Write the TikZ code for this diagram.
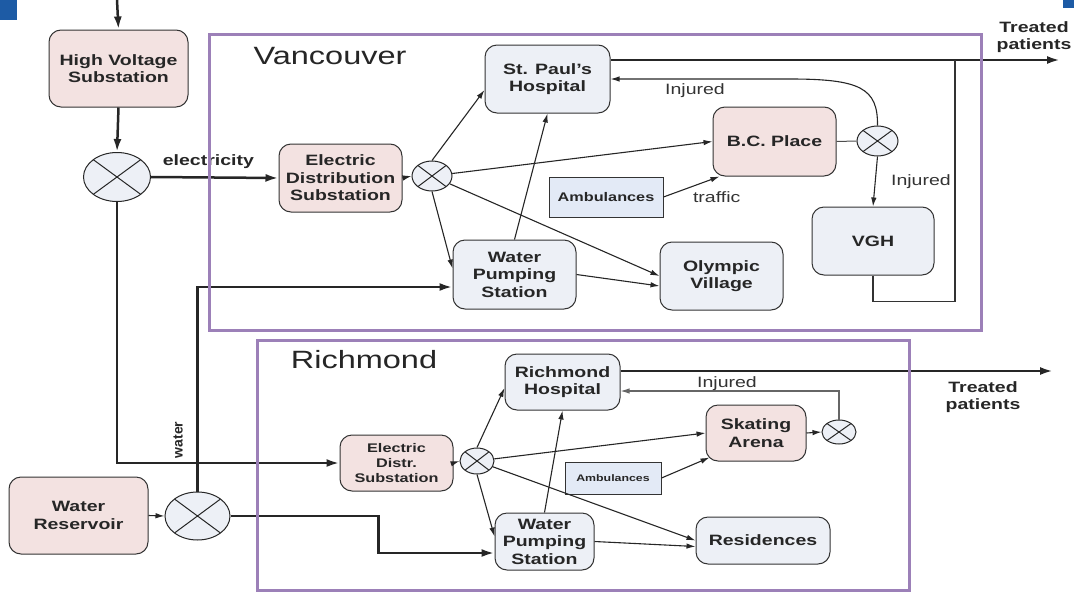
\documentclass[tikz,border=0pt]{standalone}
\usepackage{fontspec}
\setmainfont{Liberation Sans}[FakeStretch=1.3]
\newfontfamily\uprightsans{Liberation Sans}
\usepackage{tikz}
\usetikzlibrary{arrows.meta, shapes.geometric}

\definecolor{pinkfill}{HTML}{F3E2E1}
\definecolor{greyfill}{HTML}{EDF0F6}
\definecolor{ambfill}{HTML}{E3EAF6}
\definecolor{cityline}{HTML}{9C80B8}
\definecolor{slideblue}{HTML}{1D5BA5}

\tikzset{
	box/.style={draw=black!80, line width=1pt, rounded corners=12pt, align=center, inner sep=2pt, text=black!85, font=\fontsize{15}{17.5}\selectfont\bfseries},
	pinkbox/.style={box, fill=pinkfill},
	greybox/.style={box, fill=greyfill},
	ambbox/.style={draw=black!80, line width=1pt, fill=ambfill, inner sep=2pt, text=black!85},
	mixer/.style={ellipse, draw=black!85, line width=1pt, fill=greyfill, inner sep=0pt,
		path picture={\draw[black!85, line width=1pt] (path picture bounding box.south west) -- (path picture bounding box.north east)
			(path picture bounding box.north west) -- (path picture bounding box.south east);}},
	region/.style={draw=cityline, line width=3pt},
	flow/.style={line width=2.5pt, draw=black!85, -{Latex[length=13pt,width=8pt]}},
	link/.style={line width=1.1pt, draw=black!85, -{Latex[length=9pt,width=5.5pt]}},
	tag/.style={font=\fontsize{15}{17}\selectfont, text=black!80},
	boldtag/.style={font=\fontsize{15}{17}\selectfont\bfseries, text=black!85, align=center},
	cityname/.style={font=\fontsize{25}{28}\selectfont, text=black!85},
}

\begin{document}
\begin{tikzpicture}[x=1pt, y=-1pt]
	\useasboundingbox (0,0) rectangle (1074,592);
	\fill[slideblue] (0,0) rectangle (17,20);
	\fill[slideblue] (1063,0) rectangle (1074,8);

	% Supply side
	\coordinate (feed) at (117,0);
	\node[pinkbox, minimum width=139pt, minimum height=77pt](hv) at (118.5,68.5){High Voltage\\Substation};
	\node[mixer, minimum width=67pt, minimum height=49pt](mx1) at (117,177){};
	\node[pinkbox, minimum width=139pt, minimum height=77pt](wr) at (78.5,515.5){Water\\Reservoir};
	\node[mixer, minimum width=65pt, minimum height=48pt](mx2) at (197.5,516){};

	% Vancouver
	\node[cityname] at (330,56){Vancouver};
	\node[pinkbox, minimum width=123pt, minimum height=68pt](eds) at (340.5,178){Electric\\Distribution\\Substation};
	\node[mixer, minimum width=40pt, minimum height=30pt](mxv) at (432,176){};
	\node[greybox, minimum width=125pt, minimum height=68pt](sph) at (547.5,79){St. Paul’s\\Hospital};
	\node[pinkbox, minimum width=123pt, minimum height=69pt](bcp) at (774.5,141.5){B.C. Place};
	\node[mixer, minimum width=41pt, minimum height=30pt](mxb) at (877.5,141){};
	\node[ambbox, minimum width=114pt, minimum height=40pt, font=\fontsize{12.5}{15}\selectfont\bfseries](amb) at (606,197){Ambulances};
	\node[greybox, minimum width=123pt, minimum height=69pt](wps) at (514.5,274.5){Water\\Pumping\\Station};
	\node[greybox, minimum width=123pt, minimum height=68pt](ov) at (721.5,276){Olympic\\Village};
	\node[greybox, minimum width=122pt, minimum height=68pt](vgh) at (873,241){VGH};
	\coordinate (outv) at (1060,60);

	% Richmond
	\node[cityname] at (364,360){Richmond};
	\node[pinkbox, minimum width=113pt, minimum height=56pt, font=\fontsize{12.5}{15}\selectfont\bfseries](edsr) at (396.5,463){Electric\\Distr.\\Substation};
	\node[mixer, minimum width=34pt, minimum height=26pt](mxr) at (477,461){};
	\node[greybox, minimum width=115pt, minimum height=56pt](rh) at (562.5,382){Richmond\\Hospital};
	\node[pinkbox, minimum width=100pt, minimum height=56pt](sa) at (756,433){Skating\\Arena};
	\node[mixer, minimum width=34pt, minimum height=24pt](mxs) at (839,432){};
	\node[ambbox, minimum width=96pt, minimum height=32pt, font=\fontsize{9.5}{11}\selectfont\bfseries](ambr) at (613,478){Ambulances};
	\node[greybox, minimum width=99pt, minimum height=57pt](wpsr) at (544.5,541.5){Water\\Pumping\\Station};
	\node[greybox, minimum width=134pt, minimum height=47pt](res) at (763,540.5){Residences};
	\coordinate (outr) at (1053,371);

	% Power and water feeds
	\draw[flow] (feed) -- (hv.north);
	\draw[flow] (hv.south) -- (mx1.north);
	\draw[flow] (mx1.east) -- (eds.west) node[boldtag, pos=0.45, above=4pt]{electricity};
	\draw[flow] (mx1.south) |- (edsr.west);
	\draw[link] (wr.east) -- (mx2.west);
	\draw[flow] (mx2.north) |- ([yshift=-12.5pt]wps.west);
	\node[font=\uprightsans\fontsize{14}{16}\selectfont\bfseries, text=black!85, rotate=90] at (178,440){water};
	\draw[flow] (mx2.east) -- ++(148,0) |- ([yshift=-11.5pt]wpsr.west);

	% Vancouver links
	\draw[link] (eds.east) -- (mxv.west);
	\draw[link] (mxv.north) -- ([yshift=-11pt]sph.west);
	\draw[link] (mxv) -- (bcp.west);
	\draw[link] (mxv.south) -- ([yshift=6pt]wps.west);
	\draw[link] (mxv) -- (ov.west);
	\draw[link] (wps.north) -- (sph.south);
	\draw[link] (wps.east) -- ([yshift=-10pt]ov.west);
	\draw[link] (amb.east) -- ([xshift=7pt]bcp.south west) node[tag, pos=0.95, below=10pt]{traffic};
	\draw[line width=1pt, black!70] (bcp.east) -- (mxb.west);
	\draw[link] (mxb.north) .. controls (878,88) and (860,79) .. (790,79) -- (sph.east);
	\node[tag] at (695,91){Injured};
	\draw[link] (mxb.south) -- (vgh.north) node[tag, midway, right=12pt]{Injured};
	\draw[flow] ([yshift=19pt]sph.east) -- (outv);
	\draw[line width=1.4pt, black!80] (vgh.south) -- ++(0,26) -| (955,60);
	\node[boldtag] at (1034,37){Treated\\patients};

	% Richmond links
	\draw[link] (edsr.east) -- (mxr.west);
	\draw[link] (mxr.north) -- ([yshift=-6pt]rh.west);
	\draw[link] (mxr) -- (sa.west);
	\draw[link] (mxr.south) -- ([yshift=5pt]wpsr.west);
	\draw[link] (mxr) -- (res.west);
	\draw[link] (wpsr.north) -- (rh.south);
	\draw[link] (wpsr.east) -- ([yshift=-6pt]res.west);
	\draw[link] (ambr.east) -- ([xshift=4pt,yshift=4pt]sa.south west);
	\draw[link] (sa.east) -- (mxs.west);
	\draw[link, draw=black!60] (mxs.north) |- ([yshift=-9pt]rh.east);
	\node[tag] at (727,384){Injured};
	\draw[flow] ([yshift=11pt]rh.east) -- (outr);
	\node[boldtag] at (983,397){Treated\\patients};

	% City borders
	\draw[region] (209,34) rectangle (981,330);
	\draw[region] (257,340) rectangle (909,590);
\end{tikzpicture}
\end{document}
